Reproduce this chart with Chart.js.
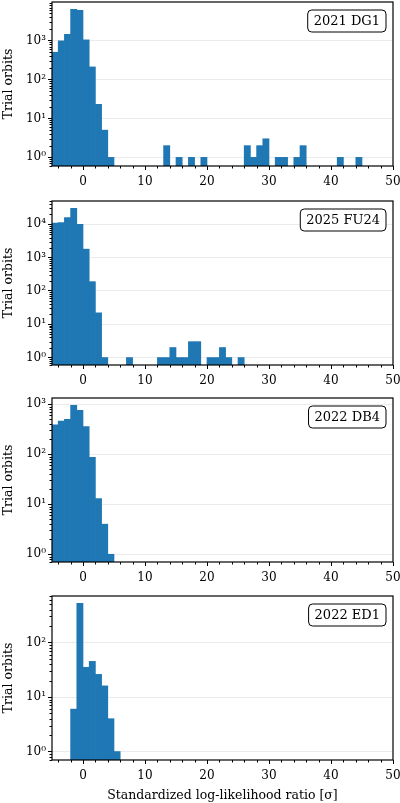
<!DOCTYPE html>
<html>
<head>
<meta charset="utf-8">
<script src="https://cdn.jsdelivr.net/npm/chart.js@4.4.0/dist/chart.umd.min.js"></script>
<style>
  body { margin: 0; background: #fff; }
  canvas { position: absolute; left: 0; }
</style>
</head>
<body>
<canvas id="dg1" width="400" height="198" style="top:0px"></canvas>
<canvas id="fu24" width="400" height="198" style="top:199px"></canvas>
<canvas id="db4" width="400" height="198" style="top:396px"></canvas>
<canvas id="ed1" width="400" height="209" style="top:594px"></canvas>
<script>
// Histogram bins are 1 sigma wide; these are the bin centres with their counts.
const binsDG1 = [-4.5, -3.5, -2.5, -1.5, -0.5, 0.5, 1.5, 2.5, 3.5, 4.5,
                 13.5, 15.5, 17.5, 19.5, 26.5, 27.5, 28.5, 29.5, 31.5, 32.5, 34.5, 35.5, 41.5, 44.5];
const countsDG1 = [500, 980, 1450, 6300, 6000, 1040, 210, 23, 5, 1,
                   2, 1, 1, 1, 2, 1, 2, 3, 1, 1, 1, 2, 1, 1];

const binsFU24 = [-4.5, -3.5, -2.5, -1.5, -0.5, 0.5, 1.5, 2.5, 3.5, 7.5,
                  12.5, 13.5, 14.5, 15.5, 16.5, 17.5, 18.5, 20.5, 21.5, 22.5, 23.5, 25.5];
const countsFU24 = [11000, 11200, 16000, 30000, 10000, 1800, 190, 22, 1, 1,
                    1, 1, 2, 1, 1, 3, 3, 1, 1, 2, 1, 1];

const binsDB4 = [-4.5, -3.5, -2.5, -1.5, -0.5, 0.5, 1.5, 2.5, 3.5, 4.5];
const countsDB4 = [390, 460, 500, 950, 760, 360, 87, 13, 4, 1];

const binsED1 = [-1.5, -0.5, 0.5, 1.5, 2.5, 3.5, 4.5, 5.5];
const countsED1 = [6, 520, 35, 45, 26, 16, 4, 1];

const xTicks = [0, 10, 20, 30, 40, 50];
const sup = ['\u2070', '\u00b9', '\u00b2', '\u00b3', '\u2074', '\u2075'];

Chart.defaults.font.family = '"DejaVu Serif", serif';
Chart.defaults.color = '#000';

// frame, minor ticks and the object name box
const framePlugin = {
    id: 'frame',
    afterDraw(chart, args, opts) {
        const ctx = chart.ctx, a = chart.chartArea;
        const xs = chart.scales.x, ys = chart.scales.y;
        ctx.save();
        ctx.strokeStyle = '#000';
        ctx.lineWidth = 1;
        ctx.beginPath();
        for (let v = -4; v <= 48; v += 2) {
            if (v % 10 === 0) continue;
            const px = Math.round(xs.getPixelForValue(v)) + 0.5;
            ctx.moveTo(px, a.bottom); ctx.lineTo(px, a.bottom + 2.5);
        }
        const n0 = Math.floor(Math.log10(ys.min)), n1 = Math.ceil(Math.log10(ys.max));
        for (let n = n0; n <= n1; n++) {
            for (let k = 2; k <= 9; k++) {
                const v = k * Math.pow(10, n);
                if (v <= ys.min || v >= ys.max) continue;
                const py = Math.round(ys.getPixelForValue(v)) + 0.5;
                ctx.moveTo(a.left - 2.5, py); ctx.lineTo(a.left, py);
            }
        }
        ctx.stroke();
        ctx.lineWidth = 1.2;
        ctx.strokeRect(a.left, a.top, a.right - a.left, a.bottom - a.top);

        ctx.font = '13px "DejaVu Serif"';
        const w = ctx.measureText(opts.text).width + 12, h = 22;
        const x = a.right - 7 - w, y = a.top + 8;
        ctx.beginPath();
        ctx.roundRect(x, y, w, h, 4);
        ctx.fillStyle = '#fff';
        ctx.fill();
        ctx.lineWidth = 1;
        ctx.stroke();
        ctx.fillStyle = '#000';
        ctx.textBaseline = 'middle';
        ctx.fillText(opts.text, x + 6, y + h / 2 + 1);
        ctx.restore();
    }
};

function makePanel(id, bins, counts, name, lastPanel) {
    const L = Math.log10(Math.max(...counts));
    const yMin = Math.pow(10, -0.05 * L), yMax = Math.pow(10, 1.05 * L);
    const canvas = document.getElementById(id);
    new Chart(canvas, {
        type: 'bar',
        data: {
            datasets: [{
                data: bins.map((b, i) => ({ x: b, y: counts[i] })),
                backgroundColor: '#1f77b4',
                borderWidth: 0,
                barPercentage: 1,
                categoryPercentage: 1
            }]
        },
        options: {
            responsive: false,
            animation: false,
            layout: { padding: { top: 2, right: 7, left: 0, bottom: 0 } },
            plugins: {
                legend: { display: false },
                tooltip: { enabled: false },
                frame: { text: name }
            },
            scales: {
                x: {
                    type: 'linear',
                    offset: false,
                    min: -5,
                    max: 50,
                    afterBuildTicks: s => { s.ticks = xTicks.map(v => ({ value: v })); },
                    afterFit: s => {
                        s.height = canvas.height - 2 - 164;
                        s.paddingLeft = 0;
                        s.paddingRight = 0;
                    },
                    grid: { drawOnChartArea: false, offset: false, tickLength: 4, tickColor: '#000' },
                    border: { display: false },
                    ticks: { font: { size: 12 }, padding: 5, maxRotation: 0 },
                    title: {
                        display: lastPanel,
                        text: 'Standardized log-likelihood ratio [\u03c3]',
                        font: { size: 12.5 },
                        padding: { top: 0, bottom: 0 }
                    }
                },
                y: {
                    type: 'logarithmic',
                    min: yMin,
                    max: yMax,
                    afterBuildTicks: s => {
                        const t = [];
                        for (let n = 0; Math.pow(10, n) <= yMax; n++) t.push({ value: Math.pow(10, n) });
                        s.ticks = t;
                    },
                    afterFit: s => {
                        s.width = 52;
                        s.paddingTop = 0;
                        s.paddingBottom = 0;
                    },
                    grid: { color: '#ebebeb', tickLength: 4, tickColor: '#000' },
                    border: { display: false },
                    ticks: {
                        autoSkip: false,
                        font: { size: 12 },
                        padding: 2,
                        callback: v => '10' + sup[Math.round(Math.log10(v))]
                    },
                    title: { display: true, text: 'Trial orbits', font: { size: 12.5 }, padding: { top: 1, bottom: 2 } }
                }
            }
        },
        plugins: [framePlugin]
    });
}

makePanel('dg1', binsDG1, countsDG1, '2021 DG1', false);
makePanel('fu24', binsFU24, countsFU24, '2025 FU24', false);
makePanel('db4', binsDB4, countsDB4, '2022 DB4', false);
makePanel('ed1', binsED1, countsED1, '2022 ED1', true);
</script>
</body>
</html>
